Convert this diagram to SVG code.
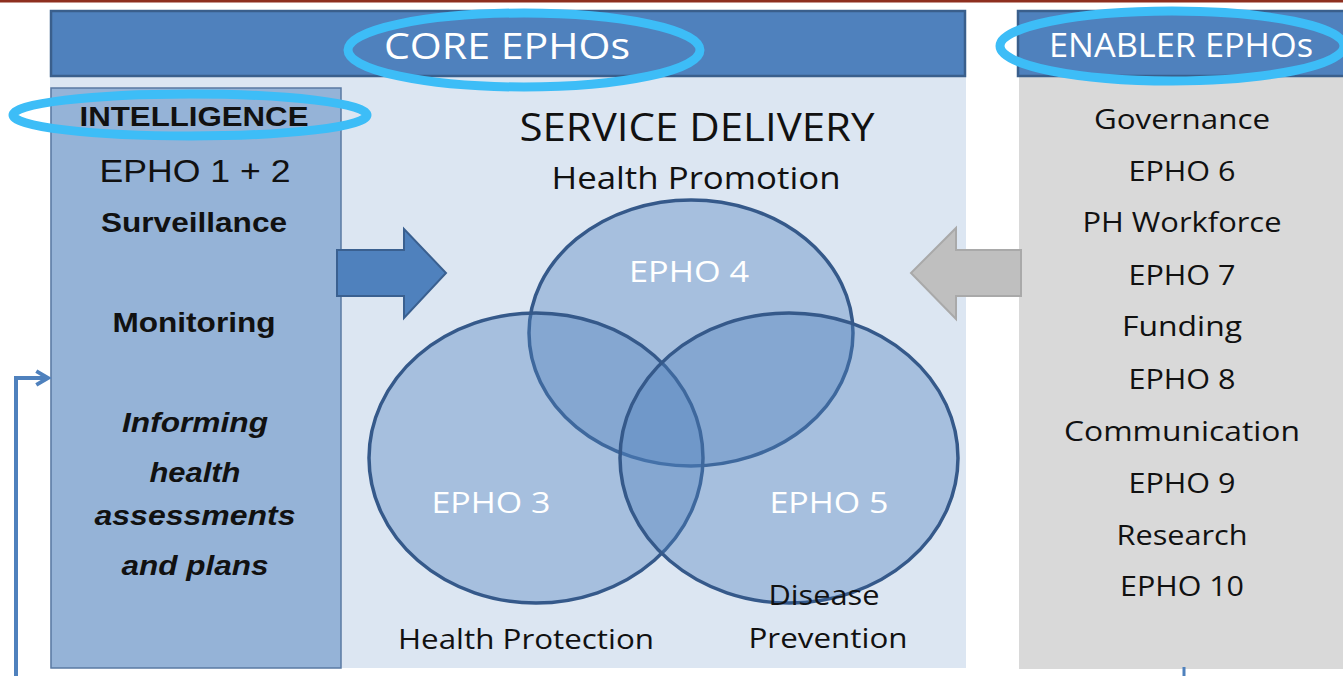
<svg xmlns="http://www.w3.org/2000/svg" width="1343" height="676" viewBox="0 0 1343 676">
<defs>
<style>
.hdr{fill:#4f81bd;stroke:#3a5f8c;stroke-width:2.5}
.cal{font-family:"Open Sans","Liberation Sans",sans-serif}
.ar{font-family:"Liberation Sans",Arial,sans-serif;font-weight:bold;fill:#111}
.wt{fill:#ffffff}
.dk{fill:#111111}
.venn{fill:#4f81bd;fill-opacity:0.38;stroke:#35598a;stroke-width:3.5}
.hl{fill:none;stroke:#3dbdf7;stroke-width:9}
</style>
<marker id="ah" viewBox="0 0 10 10" refX="8.5" refY="5" markerWidth="4.5" markerHeight="4.5" orient="auto" markerUnits="strokeWidth">
<path d="M2,1.2 L8.5,5 L2,8.8" fill="none" stroke="#4f81bd" stroke-width="2.2"/>
</marker>
</defs>
<rect x="0" y="0" width="1343" height="676" fill="#ffffff"/>
<rect x="0" y="0" width="1343" height="2.5" fill="#8e2f1f"/>

<g id="core-panel">
<rect x="50" y="77" width="916" height="591" fill="#dce6f2"/>
</g>
<g id="enabler-panel">
<rect x="1019" y="77" width="330" height="592" fill="#d9d9d9"/>
</g>

<g id="core-header">
<rect class="hdr" x="51" y="11" width="914" height="65"/>
<text class="cal wt" x="507" y="59" font-size="37" text-anchor="middle" textLength="246" lengthAdjust="spacingAndGlyphs">CORE EPHOs</text>
</g>
<g id="enabler-header">
<rect class="hdr" x="1018" y="11" width="340" height="65"/>
<text class="cal wt" x="1181" y="57" font-size="33" text-anchor="middle" textLength="264" lengthAdjust="spacingAndGlyphs">ENABLER EPHOs</text>
</g>

<g id="intelligence">
<rect x="51" y="88" width="290" height="580" fill="#95b3d7" stroke="#5a7aa3" stroke-width="1.5"/>
<text class="ar" x="194" y="126" font-size="28" text-anchor="middle" textLength="229" lengthAdjust="spacingAndGlyphs">INTELLIGENCE</text>
<text class="dk" x="195" y="182" font-size="31" text-anchor="middle" font-family="Liberation Sans, Arial, sans-serif" textLength="191" lengthAdjust="spacingAndGlyphs">EPHO 1 + 2</text>
<text class="ar" x="194" y="232" font-size="28" text-anchor="middle" textLength="186" lengthAdjust="spacingAndGlyphs">Surveillance</text>
<text class="ar" x="194" y="332" font-size="28" text-anchor="middle" textLength="163" lengthAdjust="spacingAndGlyphs">Monitoring</text>
<text class="ar" x="195" y="432" font-size="28" font-style="italic" text-anchor="middle" textLength="146" lengthAdjust="spacingAndGlyphs">Informing</text>
<text class="ar" x="195" y="482" font-size="28" font-style="italic" text-anchor="middle" textLength="91" lengthAdjust="spacingAndGlyphs">health</text>
<text class="ar" x="195" y="525" font-size="28" font-style="italic" text-anchor="middle" textLength="201" lengthAdjust="spacingAndGlyphs">assessments</text>
<text class="ar" x="195" y="575" font-size="28" font-style="italic" text-anchor="middle" textLength="147" lengthAdjust="spacingAndGlyphs">and plans</text>
</g>

<g id="service-delivery">
<text class="cal dk" x="697" y="141" font-size="38" text-anchor="middle" textLength="355" lengthAdjust="spacingAndGlyphs">SERVICE DELIVERY</text>
<text class="cal dk" x="696" y="189" font-size="31" text-anchor="middle" textLength="289" lengthAdjust="spacingAndGlyphs">Health Promotion</text>
</g>

<g id="venn">
<ellipse id="epho4" class="venn" cx="691" cy="333" rx="162" ry="133"/>
<ellipse id="epho3" class="venn" cx="536" cy="458" rx="167" ry="145"/>
<ellipse id="epho5" class="venn" cx="789" cy="458" rx="169" ry="145"/>
<text class="cal wt" x="689" y="282" font-size="29" text-anchor="middle" textLength="120" lengthAdjust="spacingAndGlyphs">EPHO 4</text>
<text class="cal wt" x="491" y="513" font-size="29" text-anchor="middle" textLength="119" lengthAdjust="spacingAndGlyphs">EPHO 3</text>
<text class="cal wt" x="829" y="513" font-size="29" text-anchor="middle" textLength="119" lengthAdjust="spacingAndGlyphs">EPHO 5</text>
</g>

<g id="labels-bottom">
<text class="cal dk" x="526" y="649" font-size="28" text-anchor="middle" textLength="256" lengthAdjust="spacingAndGlyphs">Health Protection</text>
<text class="cal dk" x="824" y="605" font-size="28" text-anchor="middle" textLength="111" lengthAdjust="spacingAndGlyphs">Disease</text>
<text class="cal dk" x="828" y="648" font-size="28" text-anchor="middle" textLength="159" lengthAdjust="spacingAndGlyphs">Prevention</text>
</g>

<g id="enabler-list" class="cal dk" font-size="28" text-anchor="middle">
<text x="1182" y="129" textLength="176" lengthAdjust="spacingAndGlyphs">Governance</text>
<text x="1182" y="181" textLength="107" lengthAdjust="spacingAndGlyphs">EPHO 6</text>
<text x="1182" y="232" textLength="199" lengthAdjust="spacingAndGlyphs">PH Workforce</text>
<text x="1182" y="285" textLength="107" lengthAdjust="spacingAndGlyphs">EPHO 7</text>
<text x="1182" y="336" textLength="120" lengthAdjust="spacingAndGlyphs">Funding</text>
<text x="1182" y="389" textLength="107" lengthAdjust="spacingAndGlyphs">EPHO 8</text>
<text x="1182" y="441" textLength="236" lengthAdjust="spacingAndGlyphs">Communication</text>
<text x="1182" y="493" textLength="107" lengthAdjust="spacingAndGlyphs">EPHO 9</text>
<text x="1182" y="545" textLength="131" lengthAdjust="spacingAndGlyphs">Research</text>
<text x="1182" y="596" textLength="124" lengthAdjust="spacingAndGlyphs">EPHO 10</text>
</g>

<g id="connectors">
<path id="arrow-blue" d="M337,250 L404,250 L404,229 L446,273 L404,318 L404,296 L337,296 Z" fill="#4f81bd" stroke="#3a6090" stroke-width="2"/>
<path id="arrow-gray" d="M1021,250 L956,250 L956,228 L911,273 L956,319 L956,296 L1021,296 Z" fill="#bfbfbf" stroke="#a9a9a9" stroke-width="2"/>
<path id="feedback" d="M16,676 L16,378 L48,378" fill="none" stroke="#4f81bd" stroke-width="4" marker-end="url(#ah)"/>
<line x1="1184" y1="667" x2="1184" y2="676" stroke="#4f81bd" stroke-width="3"/>
</g>

<g id="highlights">
<ellipse class="hl" cx="524" cy="50" rx="176" ry="37"/>
<ellipse class="hl" cx="190" cy="115" rx="177" ry="21"/>
<ellipse class="hl" cx="1172" cy="46" rx="172" ry="35"/>
</g>
</svg>
